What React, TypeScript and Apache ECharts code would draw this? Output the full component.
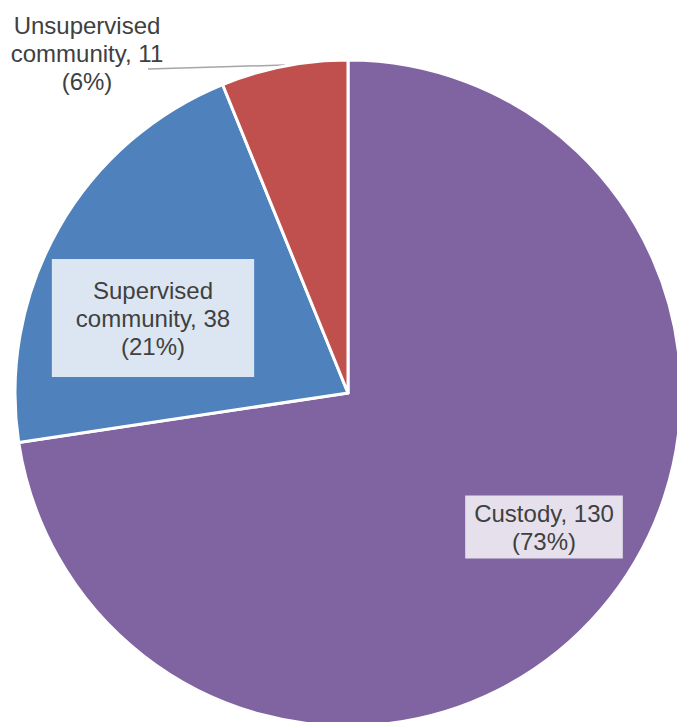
import React, { useEffect, useRef } from "react";
import * as echarts from "echarts";

const categories = ["Custody", "Supervised community", "Unsupervised community"];
const values = [130, 38, 11];
const colors = ["#8064A2", "#4F81BD", "#C0504D"];
const labelBoxColors = ["#E5E0EC", "#DCE6F2", "transparent"];

export default function App() {
  const ref = useRef<HTMLDivElement>(null);
  useEffect(() => {
    document.body.style.margin = "0";
    const chart = echarts.init(ref.current!, undefined, { renderer: "svg" });
    const labelPos = [
      { x: 544, y: 527 },
      { x: 153, y: 318 },
      { x: 87, y: 53 },
    ];
    chart.setOption({
      animation: false,
      series: [
        {
          type: "pie",
          center: [348, 393],
          radius: [0, 333],
          startAngle: 90,
          clockwise: true,
          percentPrecision: 0,
          itemStyle: { borderColor: "#ffffff", borderWidth: 3 },
          label: {
            fontFamily: "Liberation Sans, Arial, sans-serif",
            fontSize: 24,
            lineHeight: 28,
            color: "#404040",
            align: "center",
            formatter: (p: any) => {
              const name = p.name.replace(" ", "\n");
              return `${name}, ${p.value}\n(${p.percent}%)`;
            },
          },
          labelLayout: (params: any) => {
            const i = params.dataIndex;
            const base: any = {
              x: labelPos[i].x,
              y: labelPos[i].y,
              align: "center",
              verticalAlign: "middle",
            };
            if (i === 2) {
              base.labelLinePoints = [
                [285, 65],
                [216, 67],
                [148, 69],
              ];
            }
            return base;
          },
          data: categories.map((c, i) => ({
            name: c,
            value: values[i],
            itemStyle: { color: colors[i] },
            label:
              i === 2
                ? { position: "outside" }
                : {
                    position: "inside",
                    backgroundColor: labelBoxColors[i],
                    padding: i === 1 ? [17, 24, 17, 24] : [4, 9, 3, 9],
                  },
            labelLine:
              i === 2
                ? { show: true, lineStyle: { color: "#A6A6A6", width: 1.5 }, length: 10, length2: 10 }
                : { show: false },
          })),
        },
      ],
    });
    return () => chart.dispose();
  }, []);
  return (
    <div
      ref={ref}
      style={{ position: "absolute", left: 0, top: 0, width: 677, height: 722 }}
    />
  );
}
